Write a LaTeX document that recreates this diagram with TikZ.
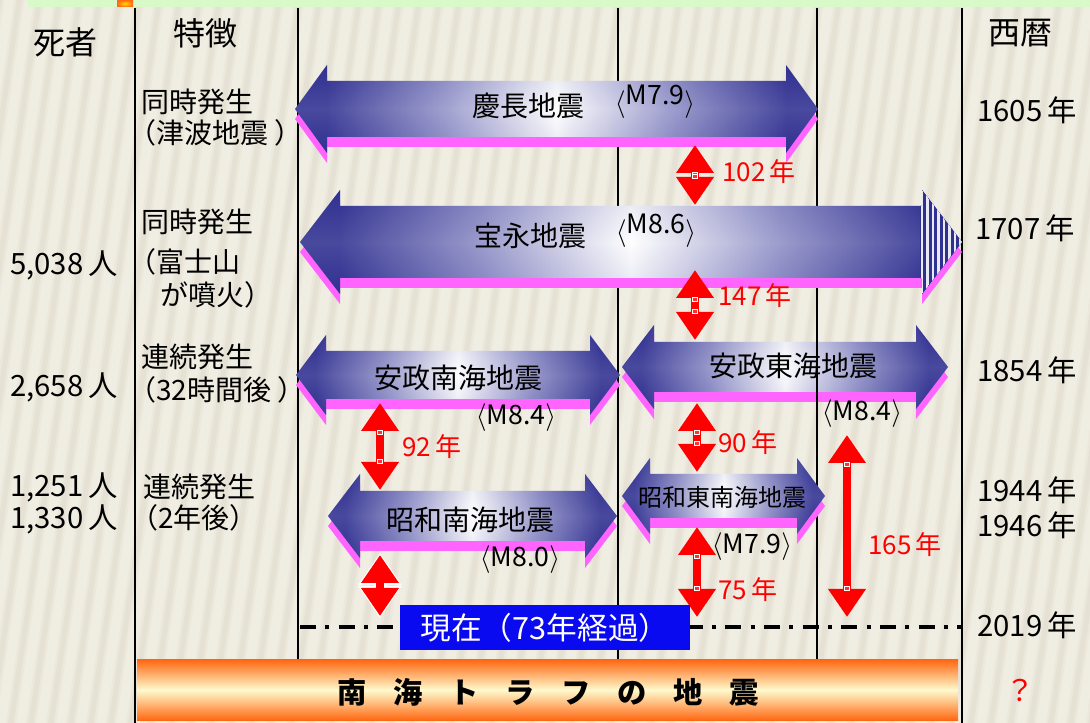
\documentclass[tikz,border=0pt]{standalone}
\usepackage{fontspec}
\setmainfont{Noto Sans CJK JP}
\usetikzlibrary{arrows.meta}
\definecolor{bgc}{RGB}{236,233,220}
\definecolor{bgd}{RGB}{218,215,200}
\definecolor{navyc}{RGB}{48,48,145}
\definecolor{lavc}{RGB}{145,145,200}
\definecolor{pinkc}{RGB}{255,100,255}
\definecolor{redc}{RGB}{255,0,0}
\definecolor{bluec}{RGB}{10,10,240}
\definecolor{orgc}{RGB}{255,105,20}
\definecolor{creamc}{RGB}{255,250,205}
\definecolor{greenc}{RGB}{216,250,200}
\pgfdeclarehorizontalshading{arrowshade}{100bp}{color(0bp)=(navyc); color(28bp)=(navyc); color(39bp)=(lavc); color(50bp)=(white); color(61bp)=(lavc); color(72bp)=(navyc); color(100bp)=(navyc)}
\newcommand{\dblarrowpath}[6]{(#1,#3) -- (#1+#6,#3-#5) -- (#1+#6,#3-#4) -- (#2-#6,#3-#4) -- (#2-#6,#3-#5) -- (#2,#3) -- (#2-#6,#3+#5) -- (#2-#6,#3+#4) -- (#1+#6,#3+#4) -- (#1+#6,#3+#5) -- cycle}
\newcommand{\quakearrow}[6]{%
  \fill[pinkc] [shift={(0,10)}] \dblarrowpath{#1}{#2}{#3}{#4}{#5}{#6};
  \shade[shading=arrowshade] \dblarrowpath{#1}{#2}{#3}{#4}{#5}{#6};
  \shade[top color=navyc, bottom color=navyc, middle color=white, opacity=0.12] \dblarrowpath{#1}{#2}{#3}{#4}{#5}{#6};
}
\newcommand{\redarr}[4]{%
  \coordinate (#1a) at (#2,#3);
  \coordinate (#1b) at (#2,#4);
  \draw[redar] (#1a) -- (#1b);
  \draw[white, line width=0.6pt, fill=redc!80!white] (#2-2.5,#3+27) rectangle (#2+2.5,#3+31);
  \draw[white, line width=0.6pt, fill=redc!80!white] (#2-2.5,#4-31) rectangle (#2+2.5,#4-27);
}
\begin{document}
\begin{tikzpicture}[x=0.75pt,y=-0.75pt,
  hdr/.style={inner sep=0pt, font=\fontsize{24}{28}\selectfont},
  lbl/.style={inner sep=0pt, font=\fontsize{21}{25}\selectfont},
  num/.style={inner sep=0pt, font=\fontsize{22}{26}\selectfont},
  yr/.style={inner sep=0pt, font=\fontsize{22}{26}\selectfont},
  eq/.style={inner sep=0pt, font=\fontsize{21}{25}\selectfont},
  eqs/.style={inner sep=0pt, font=\fontsize{18}{22}\selectfont},
  mag/.style={inner sep=0pt, font=\fontsize{20}{24}\selectfont},
  rlbl/.style={inner sep=0pt, text=redc, font=\fontsize{19.5}{23}\selectfont},
  redar/.style={redc, line width=6pt, {Triangle[width=27pt,length=21pt]}-{Triangle[width=27pt,length=21pt]}},
  gridthin/.style={black, line width=0.8pt},
  gridthick/.style={black, line width=1.6pt}]
\useasboundingbox (0,0) rectangle (1090,723);
% background
\fill[bgc] (0,0) rectangle (1090,723);
\begin{scope}
\clip (0,0) rectangle (1090,723);
\foreach \i in {-10,...,58} {
  \draw[line width=7pt, white, opacity=0.22] (\i*20,730) -- (\i*20+110,-5);
  \draw[line width=4pt, bgd, opacity=0.35] (\i*20+10,730) -- (\i*20+120,-5);
}
\end{scope}
\fill[greenc] (28,0) rectangle (1090,7);
\shade[inner color=yellow!70!orange, outer color=orgc] (117,0) rectangle (133,7);
% grid lines
\draw[gridthick] (135,8) -- (135,723);
\draw[gridthick] (962,8) -- (962,723);
\draw[gridthin] (298,8) -- (298,660);
\draw[gridthin] (618,8) -- (618,660);
\draw[gridthin] (817,8) -- (817,660);
% headers
\node[hdr] (hdeath) at (65,42) {死者};
\node[hdr] (hfeat) at (205,33) {特徴};
\node[hdr] (hyear) at (1020,33) {西暦};
% feature column
\node[lbl, anchor=west] (f1a) at (141,102) {同時発生};
\node[lbl, anchor=west] (f1b) at (128,133) {（津波地震 ）};
\node[lbl, anchor=west] (f2a) at (141,222) {同時発生};
\node[lbl, anchor=west] (f2b) at (128,262) {（富士山};
\node[lbl, anchor=west] (f2c) at (160,295) {が噴火）};
\node[lbl, anchor=west] (f3a) at (141,357) {連続発生};
\node[lbl, anchor=west] (f3b) at (128,390) {（32時間後 ）};
\node[lbl, anchor=west] (f4a) at (143,487) {連続発生};
\node[lbl, anchor=west] (f4b) at (130,518) {（2年後）};
% deaths
\node[num, anchor=east] (d2) at (118,265) {5,038\,人};
\node[num, anchor=east] (d3) at (118,387) {2,658\,人};
\node[num, anchor=east] (d4a) at (118,487) {1,251\,人};
\node[num, anchor=east] (d4b) at (118,519) {1,330\,人};
% years
\node[yr] (y1) at (1027,110) {1605\,年};
\node[yr] (y2) at (1025,228) {1707\,年};
\node[yr] (y3) at (1027,370) {1854\,年};
\node[yr] (y4a) at (1027,490) {1944\,年};
\node[yr] (y4b) at (1027,525) {1946\,年};
\node[yr] (y5) at (1027,625) {2019\,年};
\node[yr, text=redc] (y6) at (1020,690) {？};
% quake arrows
\quakearrow{295}{818}{109}{28}{44}{32}
\quakearrow{300}{962}{242}{36}{52}{40}
\begin{scope}
\clip \dblarrowpath{300}{962}{242}{36}{52}{40};
\fill[navyc] (920,180) rectangle (965,300);
\foreach \k in {0,...,7} { \draw[white!80!lavc, line width=1.6pt] (922+\k*5.5,180) -- (922+\k*5.5,300); }
\end{scope}
\quakearrow{296}{620}{375}{24}{40}{30}
\quakearrow{622}{948}{367}{25}{42}{32}
\draw[gridthin] (817,325) -- (817,420);
\quakearrow{328}{617}{516}{25}{42}{32}
\quakearrow{622}{825}{496}{22}{38}{28}
% quake labels
\node[eq] (q1) at (528,106) {慶長地震};
\node[mag] (m1) at (655,102) {$\langle$\raisebox{5pt}{M7.9}$\rangle$};
\node[eq] (q2) at (530,236) {宝永地震};
\node[mag] (m2) at (656,231) {$\langle$\raisebox{5pt}{M8.6}$\rangle$};
\node[eq] (q3) at (458,378) {安政南海地震};
\node[mag] (m3) at (516,418) {$\langle$M8.4$\rangle$};
\node[eq] (q4) at (793,366) {安政東海地震};
\node[mag] (m4) at (862,414) {$\langle$M8.4$\rangle$};
\node[eq] (q5) at (470,520) {昭和南海地震};
\node[mag] (m5) at (520,560) {$\langle$M8.0$\rangle$};
\node[eqs] (q6) at (722,497) {昭和東南海地震};
\node[mag] (m6) at (752,547) {$\langle$M7.9$\rangle$};
% present line
\coordinate (nowL) at (300,627);
\coordinate (nowR) at (962,627);
\draw[black, line width=3pt, dash pattern=on 12pt off 7pt on 3pt off 7pt] (nowL) -- (nowR);
% interval arrows
\redarr{r1}{695}{145}{205}
\node[rlbl, anchor=west] (l1) at (722,172) {102\,年};
\redarr{r2}{695}{270}{340}
\node[rlbl, anchor=west] (l2) at (718,296) {147\,年};
\redarr{r3}{380}{403}{490}
\node[rlbl, anchor=west] (l3) at (402,447) {92\,年};
\redarr{r4}{697}{403}{472}
\node[rlbl, anchor=west] (l4) at (718,443) {90\,年};
\redarr{r5}{697}{527}{617}
\node[rlbl, anchor=west] (l5) at (718,590) {75\,年};
\redarr{r6}{847}{435}{617}
\node[rlbl, anchor=west] (l6) at (868,545) {165\,年};
\coordinate (r7a) at (380,553);
\coordinate (r7b) at (380,618);
\draw[white, line width=8.5pt, {Triangle[width=31pt,length=24pt]}-{Triangle[width=31pt,length=24pt]}] (r7a) -- (r7b);
\draw[redar, shorten <=1.5pt, shorten >=1.5pt] (r7a) -- (r7b);
% present box
\node[fill=bluec, text=white, minimum width=217.5pt, minimum height=33.75pt, inner sep=0pt, font=\fontsize{23}{27}\selectfont] (now) at (545,628) {現在（73年経過）};
% bottom bar
\shade[top color=orgc, bottom color=orgc, middle color=creamc] (137,660) rectangle (958,720);
\node[inner sep=0pt, font=\bfseries\fontsize{22}{26}\selectfont] (trough) at (548,692) {南\hspace{20pt}海\hspace{20pt}ト\hspace{20pt}ラ\hspace{20pt}フ\hspace{20pt}の\hspace{20pt}地\hspace{20pt}震};
\end{tikzpicture}
\end{document}
